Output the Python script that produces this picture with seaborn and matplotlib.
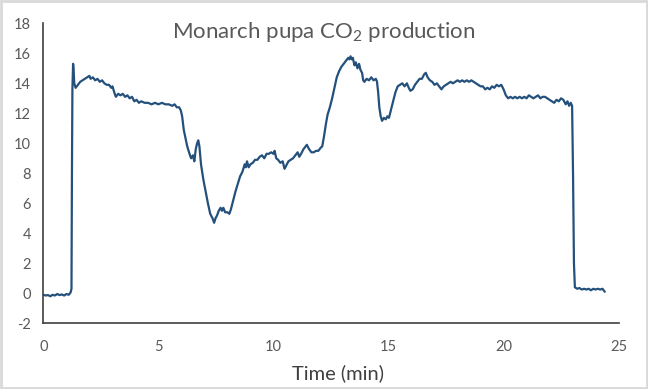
import numpy as np
import pandas as pd
import matplotlib
matplotlib.use("Agg")
import matplotlib.pyplot as plt
from matplotlib.patches import Rectangle
import seaborn as sns

time_min = [
    0.00, 0.10, 0.20, 0.30, 0.40, 0.50, 0.60, 0.70, 0.80, 0.90, 1.00, 1.10, 1.18, 1.22, 1.24, 1.26, 1.29, 1.31, 1.34, 1.40,
    1.50, 1.60, 1.70, 1.80, 1.90, 2.00, 2.05, 2.15, 2.25, 2.35, 2.45, 2.55, 2.65, 2.75, 2.85, 2.95, 3.00, 3.10, 3.15, 3.25,
    3.35, 3.45, 3.55, 3.65, 3.75, 3.85, 3.95, 4.05, 4.15, 4.25, 4.40, 4.55, 4.70, 4.85, 5.00, 5.15, 5.30, 5.45, 5.60, 5.70,
    5.80, 5.90, 5.97, 6.03, 6.10, 6.18, 6.25, 6.35, 6.42, 6.50, 6.56, 6.62, 6.68, 6.73, 6.78, 6.85, 6.95, 7.05, 7.15, 7.25,
    7.35, 7.42, 7.48, 7.55, 7.62, 7.70, 7.76, 7.82, 7.90, 8.00, 8.08, 8.15, 8.25, 8.35, 8.45, 8.55, 8.65, 8.75, 8.80, 8.85,
    8.92, 9.00, 9.10, 9.20, 9.30, 9.40, 9.50, 9.60, 9.70, 9.80, 9.90, 10.00, 10.05, 10.12, 10.20, 10.30, 10.40, 10.48, 10.55, 10.65,
    10.75, 10.85, 10.95, 11.05, 11.12, 11.20, 11.30, 11.40, 11.45, 11.55, 11.65, 11.75, 11.85, 11.95, 12.05, 12.12, 12.20, 12.28, 12.35, 12.45,
    12.55, 12.65, 12.75, 12.85, 12.95, 13.05, 13.15, 13.25, 13.30, 13.35, 13.40, 13.45, 13.52, 13.58, 13.65, 13.72, 13.78, 13.85, 13.90, 13.95,
    14.05, 14.15, 14.25, 14.35, 14.45, 14.50, 14.55, 14.60, 14.66, 14.72, 14.80, 14.88, 14.95, 15.02, 15.10, 15.20, 15.30, 15.40, 15.50, 15.60,
    15.70, 15.80, 15.88, 15.95, 16.05, 16.15, 16.25, 16.35, 16.45, 16.55, 16.62, 16.70, 16.80, 16.90, 17.00, 17.10, 17.20, 17.30, 17.40, 17.50,
    17.60, 17.70, 17.80, 17.90, 18.00, 18.10, 18.20, 18.30, 18.40, 18.50, 18.60, 18.70, 18.80, 18.90, 19.00, 19.10, 19.20, 19.30, 19.40, 19.50,
    19.60, 19.70, 19.80, 19.90, 20.00, 20.10, 20.20, 20.30, 20.40, 20.50, 20.60, 20.70, 20.80, 20.90, 21.00, 21.10, 21.20, 21.30, 21.40, 21.50,
    21.60, 21.70, 21.80, 21.90, 22.00, 22.10, 22.20, 22.30, 22.40, 22.50, 22.60, 22.70, 22.78, 22.85, 22.92, 22.98, 23.02, 23.06, 23.10, 23.20,
    23.30, 23.40, 23.50, 23.60, 23.70, 23.80, 23.90, 24.00, 24.10, 24.20, 24.30, 24.40,
]

co2 = [
    -0.10, -0.15, -0.12, -0.20, -0.10, -0.15, -0.05, -0.12, -0.08, -0.15, -0.05, -0.10, 0.05, 0.30, 8.00, 13.60, 15.30, 15.00, 14.00, 13.70,
    13.90, 14.10, 14.20, 14.30, 14.40, 14.50, 14.30, 14.40, 14.20, 14.30, 14.10, 14.20, 14.00, 13.90, 13.90, 13.70, 13.80, 13.30, 13.10, 13.30,
    13.20, 13.30, 13.10, 13.20, 13.00, 13.10, 12.80, 12.90, 12.70, 12.80, 12.70, 12.70, 12.60, 12.70, 12.60, 12.70, 12.60, 12.60, 12.50, 12.60,
    12.40, 12.40, 12.20, 11.80, 10.90, 10.30, 9.80, 9.30, 9.00, 9.20, 8.80, 9.60, 10.00, 10.20, 9.80, 8.60, 7.60, 6.80, 6.00, 5.30,
    5.00, 4.70, 5.00, 5.20, 5.50, 5.70, 5.50, 5.70, 5.40, 5.40, 5.30, 5.60, 6.20, 6.80, 7.30, 7.80, 8.10, 8.60, 8.40, 8.80,
    8.40, 8.60, 8.70, 8.90, 8.90, 9.10, 9.20, 9.00, 9.30, 9.30, 9.40, 9.30, 9.50, 9.00, 8.90, 8.70, 8.80, 8.30, 8.50, 8.80,
    8.90, 9.00, 9.20, 9.40, 9.10, 9.30, 9.60, 9.80, 9.90, 9.60, 9.40, 9.40, 9.50, 9.50, 9.70, 9.80, 10.50, 11.30, 11.90, 12.40,
    13.00, 13.70, 14.40, 14.80, 15.10, 15.30, 15.50, 15.70, 15.60, 15.80, 15.60, 15.70, 15.20, 15.40, 15.00, 15.30, 14.90, 14.70, 14.20, 14.10,
    14.30, 14.20, 14.40, 14.20, 14.30, 14.10, 13.40, 12.40, 11.80, 11.50, 11.70, 11.60, 11.80, 11.70, 12.20, 12.80, 13.40, 13.80, 13.90, 14.00,
    13.80, 14.00, 13.70, 13.50, 13.60, 13.90, 14.10, 14.30, 14.30, 14.60, 14.70, 14.40, 14.20, 14.10, 13.90, 14.00, 13.80, 13.60, 13.80, 13.90,
    14.00, 14.10, 14.00, 14.10, 14.20, 14.10, 14.20, 14.10, 14.20, 14.10, 14.20, 14.10, 14.00, 13.90, 13.80, 13.80, 13.60, 13.70, 13.60, 13.80,
    13.70, 13.90, 13.80, 13.90, 13.60, 13.20, 13.00, 13.10, 13.00, 13.10, 13.00, 13.10, 13.00, 13.10, 13.00, 13.20, 13.10, 13.00, 13.10, 13.20,
    13.00, 13.10, 13.10, 13.00, 12.90, 12.80, 12.70, 12.90, 12.80, 13.00, 12.90, 12.60, 12.80, 12.50, 12.70, 12.50, 8.00, 2.00, 0.40, 0.30,
    0.35, 0.25, 0.30, 0.25, 0.30, 0.20, 0.30, 0.25, 0.30, 0.25, 0.30, 0.10,
]

x_ticks = [0, 5, 10, 15, 20, 25]
y_ticks = [-2, 0, 2, 4, 6, 8, 10, 12, 14, 16, 18]
title = "Monarch pupa CO$_2$ production"
x_label = "Time (min)"

df = pd.DataFrame({"Time (min)": time_min, "CO2": co2})

sns.set_theme(style="white")
plt.rcParams["font.family"] = ["Lato", "DejaVu Sans"]
plt.rcParams["mathtext.fontset"] = "custom"
plt.rcParams["mathtext.rm"] = "Lato"
plt.rcParams["mathtext.it"] = "Lato"

fig = plt.figure(figsize=(6.48, 3.89), dpi=100)
ax = fig.add_axes([0.067, 0.169, 0.8876, 0.771])

sns.lineplot(data=df, x="Time (min)", y="CO2", ax=ax, color="#24507c",
             linewidth=1.6, estimator=None, sort=False)

ax.set_xlim(0, 25)
ax.set_ylim(-2, 18)
ax.set_xticks(x_ticks)
ax.set_yticks(y_ticks)
ax.set_xticklabels([str(v) for v in x_ticks])
ax.set_yticklabels([str(v) for v in y_ticks])
ax.tick_params(axis="both", length=0, labelsize=10.5, labelcolor="#595959")
ax.tick_params(axis="y", pad=9)
ax.tick_params(axis="x", pad=12)
ax.set_ylabel("")
ax.set_xlabel(x_label, fontsize=14.5, color="#404040")
ax.xaxis.set_label_coords(0.512, -0.166)
ax.xaxis.label.set_va("center")
for side in ["top", "right"]:
    ax.spines[side].set_visible(False)
for side in ["left", "bottom"]:
    ax.spines[side].set_color("#404040")
    ax.spines[side].set_linewidth(1.2)

fig.text(0.5, 0.918, title, ha="center", va="center", fontsize=16, color="#595959")

fig.patches.append(Rectangle((0.0015, 0.0025), 0.997, 0.995, transform=fig.transFigure,
                             fill=False, edgecolor="#d9d9d9", linewidth=2.0))

fig.savefig("out.png", dpi=100, facecolor="white")
